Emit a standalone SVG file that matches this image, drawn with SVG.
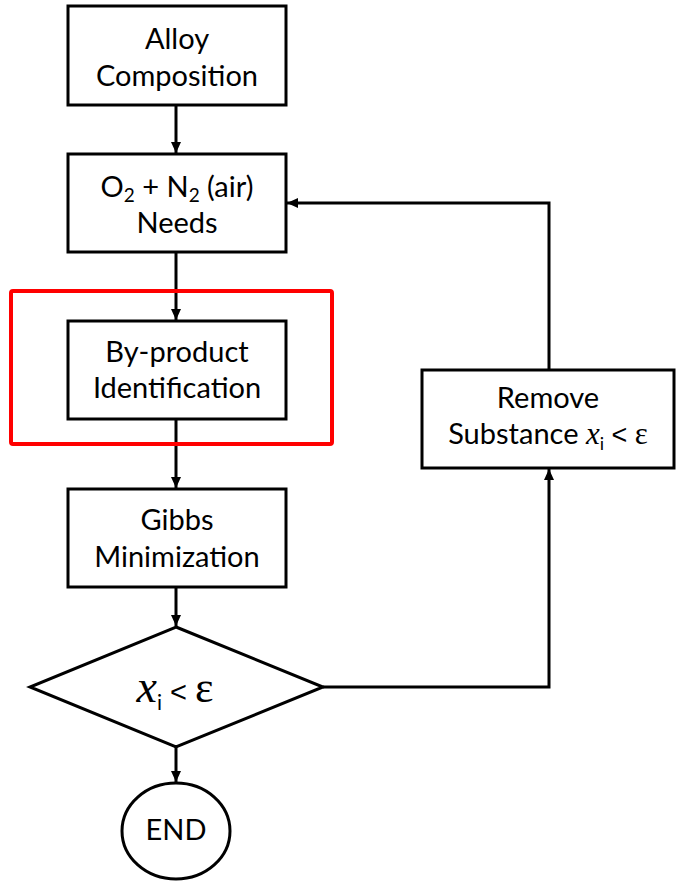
<svg xmlns="http://www.w3.org/2000/svg" width="676" height="881" viewBox="0 0 676 881">
<style>
.box{fill:#fff;stroke:#000;stroke-width:3}
.t{font-family:Lato,"Liberation Sans",sans-serif;font-size:29px;fill:#000;text-anchor:middle}
.m{font-family:"Liberation Serif","DejaVu Serif",serif;font-style:italic}
.lt{font-family:"Liberation Sans",sans-serif}
.c{fill:none;stroke:#000;stroke-width:3}
</style>
<defs>
<marker id="ah" markerWidth="12" markerHeight="12" refX="11" refY="6" orient="auto" markerUnits="userSpaceOnUse">
<path d="M0,1 L11,6 L0,11 Z" fill="#000"/>
</marker>
</defs>
<rect width="676" height="881" fill="#fff"/>
<g id="connectors">
<path class="c" d="M176,105 V153" marker-end="url(#ah)"/>
<path class="c" d="M176,252 V320" marker-end="url(#ah)"/>
<path class="c" d="M176,419 V488" marker-end="url(#ah)"/>
<path class="c" d="M176,587 V626" marker-end="url(#ah)"/>
<path class="c" d="M176,747 V782" marker-end="url(#ah)"/>
<path class="c" d="M323,687 H549 V469" marker-end="url(#ah)"/>
<path class="c" d="M549,370 V203 H287" marker-end="url(#ah)"/>
</g>
<g id="highlight">
<rect x="11" y="291" width="321" height="153" rx="2" fill="none" stroke="#ff0000" stroke-width="4"/>
</g>
<g id="alloy">
<rect class="box" x="68" y="6" width="218" height="99"/>
<text class="t" x="177" y="49">Alloy</text>
<text class="t" x="177" y="86">Composition</text>
</g>
<g id="needs">
<rect class="box" x="68" y="154" width="218" height="98"/>
<text class="t" x="177" y="197">O<tspan font-size="19" dy="5">2</tspan><tspan dy="-5"> + N</tspan><tspan font-size="19" dy="5">2</tspan><tspan dy="-5"> (air)</tspan></text>
<text class="t" x="177" y="233">Needs</text>
</g>
<g id="byproduct">
<rect class="box" x="68" y="321" width="218" height="98"/>
<text class="t" x="177" y="362">By-product</text>
<text class="t" x="177" y="398">Identification</text>
</g>
<g id="gibbs">
<rect class="box" x="68" y="489" width="218" height="98"/>
<text class="t" x="177" y="530">Gibbs</text>
<text class="t" x="177" y="567">Minimization</text>
</g>
<g id="decision">
<polygon class="box" points="176,627 323,687 176,747 30,687"/>
<text class="t" x="175" y="702" font-size="36"><tspan class="m" font-size="46">x</tspan><tspan font-size="21" dy="8">i</tspan><tspan class="lt" dy="-8"> &lt; </tspan><tspan font-family="Liberation Serif,serif" font-size="44">ε</tspan></text>
</g>
<g id="end">
<ellipse class="box" cx="176" cy="831" rx="54" ry="48"/>
<text class="t" x="176" y="840" font-size="22">END</text>
</g>
<g id="remove">
<rect class="box" x="422" y="370" width="252" height="98"/>
<text class="t" x="548" y="408">Remove</text>
<text class="t" x="548" y="444">Substance <tspan class="m" font-size="31">x</tspan><tspan font-size="18" dy="6">i</tspan><tspan class="lt" dy="-6" font-size="27"> &lt; </tspan><tspan font-family="Liberation Serif,serif" font-size="31">ε</tspan></text>
</g>
</svg>
